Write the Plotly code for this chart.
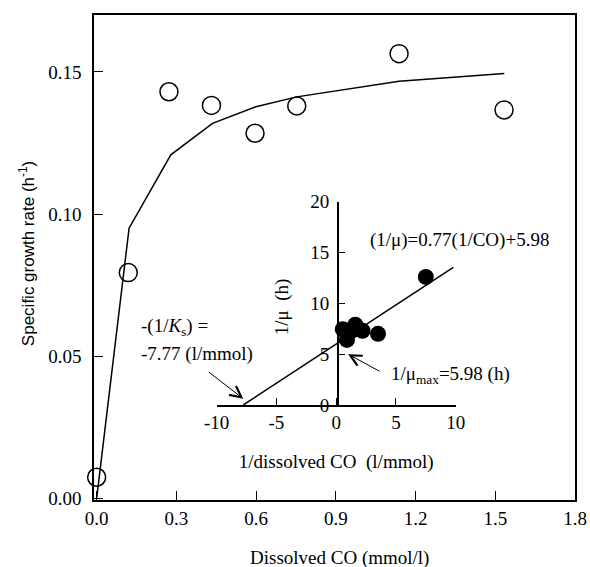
import plotly.graph_objects as go

# Main panel: measured specific growth rate vs dissolved CO
co_conc = [0.0, 0.119, 0.272, 0.432, 0.596, 0.753, 1.138, 1.533]
growth_rate = [0.0074, 0.0794, 0.143, 0.1382, 0.1284, 0.138, 0.1564, 0.1366]

# Fitted curve
fit_x = [0.0, 0.122, 0.279, 0.436, 0.599, 0.753, 1.138, 1.534]
fit_y = [0.0, 0.095, 0.1208, 0.1319, 0.1377, 0.1412, 0.1467, 0.1494]

# Inset: Lineweaver-Burk plot
inv_co = [0.55, 0.9, 1.3, 1.6, 2.2, 3.5, 7.5]
inv_mu = [7.45, 6.4, 7.3, 7.9, 7.3, 7.0, 12.6]
lb_x = [-7.77, 9.8]
lb_y = [0.0, 13.53]

main_xticks = [0.0, 0.3, 0.6, 0.9, 1.2, 1.5, 1.8]
main_yticks = [0.00, 0.05, 0.10, 0.15]
inset_xticks = [-10, -5, 0, 5, 10]
inset_yticks = [0, 5, 10, 15, 20]

SERIF = "Liberation Serif, Times New Roman, serif"
SANS = "Liberation Sans, Arial, sans-serif"
FS = 19

fig = go.Figure()
fig.add_trace(go.Scatter(x=fit_x, y=fit_y, mode="lines",
                         line=dict(color="black", width=1.5), showlegend=False))
fig.add_trace(go.Scatter(x=co_conc, y=growth_rate, mode="markers",
                         marker=dict(symbol="circle-open", size=18, color="black",
                                     line=dict(width=1.5, color="black")),
                         showlegend=False, cliponaxis=False))
fig.add_trace(go.Scatter(x=lb_x, y=lb_y, mode="lines", xaxis="x2", yaxis="y2",
                         line=dict(color="black", width=1.5), showlegend=False))
fig.add_trace(go.Scatter(x=inv_co, y=inv_mu, mode="markers", xaxis="x2", yaxis="y2",
                         marker=dict(symbol="circle", size=16, color="black"),
                         showlegend=False))

ax_common = dict(showline=True, linecolor="black", linewidth=1.5, showgrid=False,
                 zeroline=False, ticks="inside", tickcolor="black", tickwidth=1.2,
                 automargin=False,
                 tickfont=dict(family=SERIF, size=FS, color="black"))

fig.update_layout(
    width=590, height=567,
    margin=dict(l=94, r=15, t=15, b=67),
    paper_bgcolor="white", plot_bgcolor="white",
    xaxis=dict(**ax_common, range=[-0.01, 1.8], mirror=True, ticklen=9,
               tickvals=main_xticks, ticktext=[f"{v:.1f}" for v in main_xticks]),
    yaxis=dict(**ax_common, range=[-0.0006, 0.17], mirror=True, ticklen=9,
               ticklabelstandoff=7,
               tickvals=main_yticks, ticktext=[f"{v:.2f}" for v in main_yticks]),
    xaxis2=dict(**ax_common, domain=[0.255, 0.752], anchor="y2", range=[-10, 10],
                ticklen=7, tickvals=inset_xticks, ticktext=[str(v) for v in inset_xticks],
                title=dict(text="1/dissolved CO  (l/mmol)", standoff=22,
                           font=dict(family=SERIF, size=FS, color="black"))),
    yaxis2=dict(**ax_common, domain=[0.196, 0.615], anchor="free", position=0.5067,
                range=[0, 20], ticklen=7, ticklabelstandoff=4, tickvals=inset_yticks,
                ticktext=[str(v) for v in inset_yticks]),
)

ann_font = dict(family=SERIF, size=FS, color="black")
# axis titles
fig.add_annotation(xref="paper", yref="paper", x=0.511, y=-0.1196,
                   text="Dissolved CO (mmol/l)", showarrow=False,
                   xanchor="center", yanchor="middle", font=ann_font)
fig.add_annotation(xref="paper", yref="paper", x=-0.1393, y=0.509,
                   text="Specific growth rate (h<sup>-1</sup>)", textangle=-90,
                   showarrow=False, xanchor="center", yanchor="middle",
                   font=dict(family=SANS, size=17, color="black"))
fig.add_annotation(xref="paper", yref="paper", x=0.390, y=0.3986, text="1/μ  (h)",
                   textangle=-90, showarrow=False, xanchor="center", yanchor="middle",
                   font=ann_font)
# text labels
fig.add_annotation(xref="paper", yref="paper", x=0.759, y=0.536,
                   text="(1/μ)=0.77(1/CO)+5.98",
                   showarrow=False, xanchor="center", yanchor="middle", font=ann_font)
fig.add_annotation(xref="paper", yref="paper", x=0.094, y=0.357,
                   text="-(1/<i>K</i><sub>s</sub>) =",
                   showarrow=False, xanchor="left", yanchor="middle", font=ann_font)
fig.add_annotation(xref="paper", yref="paper", x=0.094, y=0.301, text="-7.77 (l/mmol)",
                   showarrow=False, xanchor="left", yanchor="middle", font=ann_font)
fig.add_annotation(xref="x2", yref="y2", x=4.38, y=2.96,
                   text="1/μ<sub>max</sub>=5.98 (h)",
                   showarrow=False, xanchor="left", yanchor="middle", font=ann_font)
# arrows
fig.add_annotation(xref="x2", yref="y2", x=-7.77, y=0.6, ax=-36, ay=-28, text="",
                   showarrow=True, arrowhead=5, arrowsize=2.2, arrowwidth=1,
                   arrowcolor="black")
fig.add_annotation(xref="x2", yref="y2", x=1.0, y=5.0, ax=33, ay=18, text="",
                   showarrow=True, arrowhead=5, arrowsize=2.2, arrowwidth=1,
                   arrowcolor="black")

fig.write_html(
    "out.html",
    config={"displayModeBar": False},
    post_script="document.body.style.margin='0';document.body.style.overflow='hidden';",
)
